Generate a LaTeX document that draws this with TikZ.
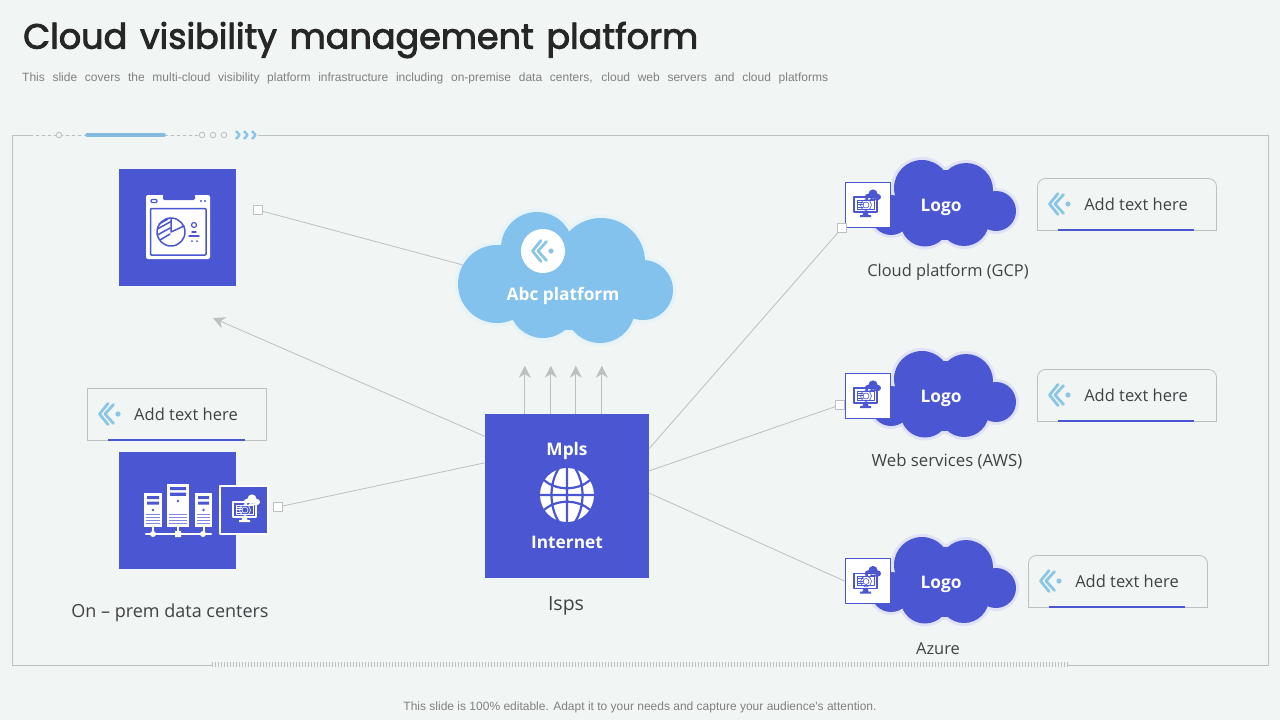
\documentclass[tikz,border=0pt]{standalone}
\usepackage{fontspec}
\setmainfont{Open Sans}
\newfontfamily\titlefont[FakeBold=2.6]{Poppins}
\newfontfamily\notefont{Liberation Sans}
\usetikzlibrary{arrows.meta}
\definecolor{pagebg}{HTML}{F1F5F4}
\definecolor{indigo}{HTML}{4A56D2}
\definecolor{skyblue}{HTML}{83C2EC}
\definecolor{chevblue}{HTML}{8CC6E6}
\definecolor{halo}{HTML}{DFE2F8}
\definecolor{bighalo}{HTML}{E6F3F7}
\definecolor{framegray}{HTML}{BBC0C0}
\definecolor{inkgray}{HTML}{404244}
\tikzset{
	conn/.style={draw=framegray,line width=.8pt},
	upconn/.style={conn,-{Stealth[length=12pt,width=12pt,inset=4pt]}},
	tinybox/.style={draw=framegray,fill=white,line width=.8pt,minimum size=9pt,inner sep=0pt},
	bluebox/.style={fill=indigo,minimum size=#1,inner sep=0pt},
	label/.style={font=\fontsize{16.4}{20}\selectfont,text=inkgray,inner sep=0pt},
	addtext/.style={font=\fontsize{16.5}{20}\selectfont,text=inkgray,inner sep=0pt},
	whitebold/.style={font=\fontsize{17.3}{20}\selectfont\bfseries,text=white,inner sep=0pt},
	pics/chevicon/.style={code={
		\draw[chevblue,line width=2.8pt,miter limit=8] (4,-10.5)--(-4.5,0)--(4,10.5) (9.5,-9.5)--(1,0)--(9.5,9.5);
		\fill[chevblue](14,0)circle(2.6);
	}},
	pics/monitoricon/.style={code={
		\draw[#1,line width=1.2pt](-13,-8)rectangle(10,7);
		\draw[#1,line width=.7pt](-10,-5)rectangle(7,4);
		\draw[#1,line width=1pt](-9,-3)--(-4,-3)(-9,-.5)--(-4,-.5)(-9,2)--(-4,2);
		\draw[#1,line width=.6pt](-1,0)circle(3)(-1,0)circle(5.5);
		\fill[#1](-3.5,7)--(.5,7)--(1.5,10)--(-4.5,10)--cycle(-7,10)rectangle(4,12);
		\fill[#1](1,-8)circle(3.2)(6,-11)circle(4.6)(11,-8)circle(3)(1,-8)rectangle(11,-5);
	}}
}
\begin{document}
\begin{tikzpicture}[x=1pt,y=-1pt,line join=round,line cap=round,>=stealth]
	\fill[pagebg](0,0)rectangle(1280,720);
	\useasboundingbox(0,0)rectangle(1280,720);
	\def\bigpuffs{537/248/36,601/262/44,643/290/30,600/308/35,543/304/34,497/284/39,570/285/45}
	\def\logopuffs{922/188/28,966/190/27,996/211/20,964/221/25,925/222/24.5,891/215/20,945/205/35}
	% heading
	\node[anchor=west,inner sep=0pt,text=black!85,font=\fontsize{35}{40}\selectfont\titlefont] (title) at (23,40) {\makebox[675pt][s]{Cloud visibility management platform}};
	\node[anchor=west,inner sep=0pt,text=black!50,font=\fontsize{12}{14}\selectfont\notefont] (subtitle) at (22,78.5) {\makebox[806pt][s]{This slide covers the multi-cloud visibility platform infrastructure including on-premise data centers, cloud web servers and cloud platforms}};
	\node[inner sep=0pt,text=black!50,font=\fontsize{12}{14}\selectfont\notefont] (footer) at (640,707) {This slide is 100\% editable. Adapt it to your needs and capture your audience's attention.};
	% frame with its two trims
	\draw[framegray,line width=.9pt](12.5,135.5)rectangle(1268.5,665.5);
	\fill[pagebg](30,131)rectangle(258,140);
	\fill[pagebg](212,660)rectangle(1067,670);
	\draw[framegray,line width=.8pt,dashed](30,135)--(85,135)(165,135)--(200,135);
	\draw[skyblue!90!gray,line width=3.6pt](87,135)--(164,135);
	\foreach \x in {59,202,213,224}{\draw[framegray,fill=pagebg,line width=.8pt](\x,135)circle(2.8);}
	\foreach \x in {236,244,252}{\draw[chevblue,line width=2.4pt,line cap=butt](\x,131)--(\x+3.5,135)--(\x,139);}
	\foreach \x in {212,215,...,1067}{\draw[framegray,line width=.6pt,line cap=butt](\x,662)--(\x,667);}
	% clouds
	\foreach \x/\y/\r in \bigpuffs{\fill[bighalo](\x,\y)circle(\r+3.5);}
	\foreach \x/\y/\r in \bigpuffs{\fill[skyblue](\x,\y)circle(\r);}
	\fill[white](543,251)circle(22);
	\pic at (537,251){chevicon};
	\node[whitebold] (abctext) at (563,296) {Abc platform};
	\foreach \dy in {0,191,377}{
		\begin{scope}[yshift=-\dy pt]
			\foreach \x/\y/\r in \logopuffs{\fill[halo](\x,\y)circle(\r+3);}
			\foreach \x/\y/\r in \logopuffs{\fill[indigo](\x,\y)circle(\r);}
		\end{scope}
	}
	\node[whitebold] (logogcp) at (941,207) {Logo};
	\node[whitebold] (logoaws) at (941,398) {Logo};
	\node[whitebold] (logoazure) at (941,584) {Logo};
	% blue squares
	\node[bluebox=117pt] (winbox) at (177.5,227.5) {};
	\node[bluebox=117pt] (srvbox) at (177.5,510.5) {};
	\node[bluebox=164pt] (ispsbox) at (567,496) {};
	\node[whitebold] (mpls) at (567,451) {Mpls};
	\node[whitebold] (internet) at (567,542) {Internet};
	\node[label,font=\fontsize{19.5}{22}\selectfont] (isps) at (566,606) {Isps};
	% globe
	\fill[white](567,495)circle(27);
	\draw[indigo,line width=2.2pt,line cap=butt](567,468)--(567,522)(540,495)--(594,495)
		(544,480)..controls(556,491)and(578,491)..(590,480)
		(544,510)..controls(556,499)and(578,499)..(590,510)
		(559,468)..controls(549,483)and(549,507)..(559,522)
		(575,468)..controls(585,483)and(585,507)..(575,522);
	% window icon
	\fill[white,rounded corners=2pt](146,195)rectangle(210,259);
	\fill[indigo,rounded corners=1.5pt](163,194)rectangle(195,200);
	\draw[indigo,line width=1.2pt,rounded corners=1pt](151,199.5)rectangle(157,202.5);
	\fill[indigo](201,201)circle(1.1)(205,201)circle(1.1);
	\draw[indigo,line width=1.5pt,rounded corners=1pt](150.5,208.5)rectangle(206,255);
	\draw[indigo,line width=1.5pt](171,232)circle(14);
	\draw[indigo,line width=1.5pt](171,218)--(171,232)--(184,226)
		(159,224)--(168,219)(157.5,229)--(170,222)(157.5,235)--(170,228)(160,240)--(170,234);
	\draw[indigo,line width=1.2pt](194,225)circle(2.5);
	\draw[indigo,line width=1.4pt](189,236)--(199,236)(192,232)--(196,232);
	\fill[indigo](192,241)circle(1)(197,241)circle(1);
	% servers
	\foreach \x/\w/\t in {144/18/493,167/22/484,195/17/493}{
		\fill[white](\x,\t)rectangle(\x+\w,527);
		\fill[indigo](\x+3,\t+3)rectangle(\x+\w-3,\t+6)(\x+3,\t+8.5)rectangle(\x+\w-3,\t+11.5);
		\fill[indigo](\x+\w/2,\t+17)circle(1.3);
		\foreach \d in {514,517,520,523}{\fill[indigo!70](\x+2,\d)rectangle(\x+\w-2,\d+1.2);}
		\draw[white,line width=2pt,line cap=butt](\x+\w/2,527)--(\x+\w/2,534);
	}
	\fill[indigo](170,493)rectangle(186,496);
	\draw[white,line width=2.6pt](146,534)--(211,534);
	\fill[white](153,534)circle(3)(203,534)circle(3)(175,531)rectangle(181,537);
	% small monitor tiles
	\node[fill=indigo,draw=white,line width=2.5pt,minimum size=48pt,inner sep=0pt] (srvtile) at (244,510) {};
	\pic at (246,510){monitoricon=white};
	\node[fill=white,draw=indigo,line width=1pt,minimum size=45pt,inner sep=0pt] (gcptile) at (867.5,204.5) {};
	\pic at (867,205){monitoricon=indigo};
	\node[fill=white,draw=indigo,line width=1pt,minimum size=45pt,inner sep=0pt] (awstile) at (867.5,395.5) {};
	\pic at (867,396){monitoricon=indigo};
	\node[fill=white,draw=indigo,line width=1pt,minimum size=45pt,inner sep=0pt] (azuretile) at (867.5,581) {};
	\pic at (867,581.5){monitoricon=indigo};
	% connector ends
	\node[tinybox] (sqwin) at (258,210) {};
	\node[tinybox] (sqsrv) at (278,507) {};
	\node[tinybox] (sqgcp) at (842,228) {};
	\node[tinybox] (sqaws) at (840,405) {};
	\coordinate (abcin) at (463,265);
	\coordinate (wintip) at (213,318);
	\draw[conn] (sqwin) -- (abcin);
	\draw[upconn] (ispsbox.144.3) -- (wintip);
	\draw[conn] (ispsbox.158.7) -- (sqsrv);
	\draw[conn] (ispsbox.30.9) -- (sqgcp);
	\draw[conn] (ispsbox.17.6) -- (sqaws);
	\draw[conn] (ispsbox.2.8) -- (azuretile.west);
	\foreach \dx in {40,66,91,117}{
		\draw[upconn] ([xshift=\dx pt]ispsbox.north west) -- ++(0,-48);
	}
	% captions
	\node[label,font=\fontsize{18}{20}\selectfont] (onprem) at (170,613) {On -- prem data centers};
	\node[label] (gcpcap) at (948,272) {Cloud platform (GCP)};
	\node[label,font=\fontsize{16.8}{20}\selectfont] (awscap) at (947,461) {Web services (AWS)};
	\node[label] (azurecap) at (938,649) {Azure};
	% add text boxes
	\draw[conn](87.5,388.5)rectangle(266.5,440.5);
	\draw[indigo,line width=1.8pt,line cap=butt](108,440)--(245,440);
	\pic at (104,414){chevicon};
	\node[addtext] (addsrv) at (186,414) {Add text here};
	\foreach \x/\y/\n in {1037/178/gcp,1037/369/aws,1028/555/azure}{
		\draw[conn,rounded corners=8pt](\x.5,\y.5+52)--(\x.5,\y.5)--(\x.5+179,\y.5)--(\x.5+179,\y.5+52);
		\draw[conn](\x.5,\y.5+52)--(\x.5+179,\y.5+52);
		\draw[indigo,line width=1.8pt,line cap=butt](\x+21,\y+52)--(\x+157,\y+52);
		\pic at (\x+17,\y+26){chevicon};
		\node[addtext] (add\n) at (\x+99,\y+26) {Add text here};
	}
\end{tikzpicture}
\end{document}
